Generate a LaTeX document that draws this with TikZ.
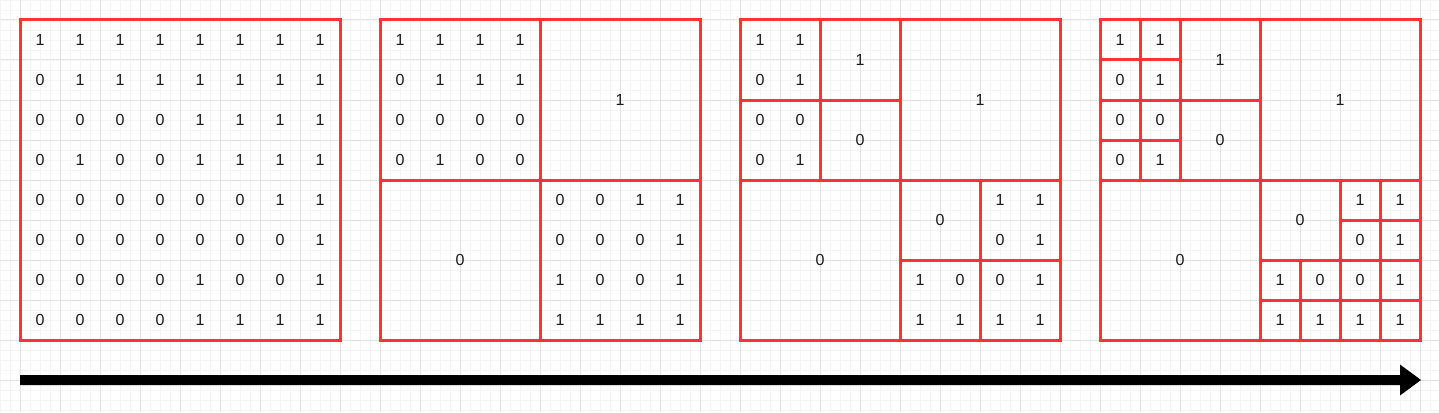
\documentclass[tikz,border=0pt]{standalone}
\usepackage{fontspec}
\setmainfont{Liberation Sans}
\definecolor{qred}{HTML}{FF3333}
\definecolor{gmaj}{HTML}{E4E4E4}
\definecolor{gmin}{HTML}{F4F4F4}
\tikzset{
  val/.style={inner sep=0pt, font=\fontsize{16}{18}\selectfont, text=black!90},
  region/.style={draw=qred, line width=3pt},
  minorgrid/.style={draw=gmin, line width=0.8pt},
  majorgrid/.style={draw=gmaj, line width=1pt},
}
\newcommand\qtvals[2]{%
  \foreach \row [count=\r from 0] in {{1,1,1,1,1,1,1,1},{0,1,1,1,1,1,1,1},{0,0,0,0,1,1,1,1},{0,1,0,0,1,1,1,1},{0,0,0,0,0,0,1,1},{0,0,0,0,0,0,0,1},{0,0,0,0,1,0,0,1},{0,0,0,0,1,1,1,1}}{%
    \foreach \v [count=\c from 0] in \row {%
      \ifcase#2
        \def\shw{1}%
      \or
        \pgfmathtruncatemacro\shw{or(and(\r<4,\c<4),and(\r>3,\c>3))}%
      \or
        \pgfmathtruncatemacro\shw{or(and(\r<4,\c<2),and(and(\r>3,\c>3),not(and(\r<6,\c<6))))}%
      \fi
      \ifnum\shw=1
        \node[val] (v#2-\r-\c) at ({#1+20+40*\c},{40+40*\r}) {\v};
      \fi
    }%
  }%
}
\begin{document}
\begin{tikzpicture}[x=1pt,y=-1pt]
\useasboundingbox (0,0) rectangle (1439,412);
\fill[white] (0,0) rectangle (1439,412);
% grid
\foreach \i in {0,10,...,1430} {\draw[minorgrid] (\i,0) -- (\i,412);}
\foreach \i in {0,10,...,410} {\draw[minorgrid] (0,\i) -- (1439,\i);}
\foreach \i in {20,60,...,1420} {\draw[majorgrid] (\i,0) -- (\i,412);}
\foreach \i in {20,60,...,400} {\draw[majorgrid] (0,\i) -- (1439,\i);}

% panel 1
\qtvals{20}{0}
\draw[region] (20,20) rectangle (340,340);

% panel 2
\qtvals{380}{1}
\node[val] (p2tr) at (620,100) {1};
\node[val] (p2bl) at (460,260) {0};
\draw[region] (380,20) rectangle (700,340);
\draw[region] (540,20) -- (540,340) (380,180) -- (700,180);

% panel 3
\qtvals{740}{2}
\node[val] (p3a) at (860,60) {1};
\node[val] (p3b) at (860,140) {0};
\node[val] (p3c) at (980,100) {1};
\node[val] (p3d) at (820,260) {0};
\node[val] (p3e) at (940,220) {0};
\draw[region] (740,20) rectangle (1060,340);
\draw[region] (900,20) -- (900,340) (740,180) -- (1060,180);
\draw[region] (820,20) -- (820,180) (740,100) -- (900,100);
\draw[region] (980,180) -- (980,340) (900,260) -- (1060,260);

% panel 4
\qtvals{1100}{2}
\node[val] (p4a) at (1220,60) {1};
\node[val] (p4b) at (1220,140) {0};
\node[val] (p4c) at (1340,100) {1};
\node[val] (p4d) at (1180,260) {0};
\node[val] (p4e) at (1300,220) {0};
\draw[region] (1100,20) rectangle (1420,340);
\draw[region] (1260,20) -- (1260,340) (1100,180) -- (1420,180);
\draw[region] (1180,20) -- (1180,180) (1100,100) -- (1260,100);
\draw[region] (1340,180) -- (1340,340) (1260,260) -- (1420,260);
\draw[region] (1140,20) -- (1140,180) (1100,60) -- (1180,60) (1100,140) -- (1180,140);
\draw[region] (1380,180) -- (1380,260) (1340,220) -- (1420,220);
\draw[region] (1300,260) -- (1300,340) (1260,300) -- (1420,300);
\draw[region] (1380,260) -- (1380,340);

% arrow
\coordinate (as) at (20,375);
\coordinate (ab) at (1400,375);
\coordinate (ac) at (1400,385);
\coordinate (ad) at (20,385);
\coordinate (ht) at (1400,364.5);
\coordinate (hp) at (1421,380);
\coordinate (hb) at (1400,395.5);
\fill[black] (as) -- (ab) -- (ht) -- (hp) -- (hb) -- (ac) -- (ad) -- cycle;
\end{tikzpicture}
\end{document}
